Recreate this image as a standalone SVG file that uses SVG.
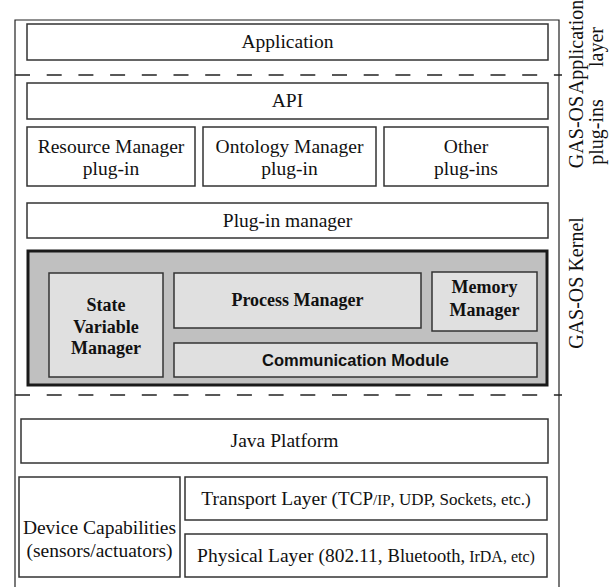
<svg xmlns="http://www.w3.org/2000/svg" width="613" height="587" viewBox="0 0 613 587">
  <style>
    .box { fill: #ffffff; stroke: #333333; stroke-width: 1.5; }
    .kbox { fill: #e0e0e0; stroke: #333333; stroke-width: 1.5; }
    .kernel { fill: #c0c0c0; stroke: #1a1a1a; stroke-width: 3; }
    .frame { fill: none; stroke: #222222; stroke-width: 1.2; }
    .sep { fill: none; stroke: #222222; stroke-width: 1.5; stroke-dasharray: 15 16.7; }
    text { fill: #111111; text-anchor: middle; }
    .t { font-size: 19.5px; }
    .tb { font-size: 18px; font-weight: bold; }
    .sb { font-size: 16.5px; font-weight: bold; }
    .side { font-size: 20px; }
  </style>

  <!-- outer frame and layer separators -->
  <g id="frame">
    <polyline class="frame" points="15,587 15,20 559,20 559,587"/>
    <line class="sep" x1="15" y1="75" x2="562" y2="75"/>
    <line class="sep" x1="15" y1="395" x2="562" y2="395"/>
  </g>

  <g font-family="Liberation Serif, Times New Roman, DejaVu Serif, serif">
    <!-- application layer -->
    <g id="application">
      <rect class="box" x="27" y="24" width="521" height="36"/>
      <text class="t" x="287.5" y="48">Application</text>
    </g>

    <!-- GAS-OS plug-ins -->
    <g id="api">
      <rect class="box" x="27" y="83" width="521" height="36"/>
      <text class="t" x="287.5" y="107">API</text>
    </g>
    <g id="resource-manager">
      <rect class="box" x="27" y="127" width="168" height="59"/>
      <text class="t" x="111" y="153">Resource Manager</text>
      <text class="t" x="111" y="175">plug-in</text>
    </g>
    <g id="ontology-manager">
      <rect class="box" x="203" y="127" width="173" height="59"/>
      <text class="t" x="289.5" y="153">Ontology Manager</text>
      <text class="t" x="289.5" y="175">plug-in</text>
    </g>
    <g id="other-plugins">
      <rect class="box" x="384" y="127" width="164" height="59"/>
      <text class="t" x="466" y="153">Other</text>
      <text class="t" x="466" y="175">plug-ins</text>
    </g>
    <g id="plugin-manager">
      <rect class="box" x="27" y="203" width="521" height="35"/>
      <text class="t" x="287.5" y="227">Plug-in manager</text>
    </g>

    <!-- GAS-OS kernel -->
    <g id="kernel">
      <rect class="kernel" x="28" y="251" width="519" height="134"/>
    </g>
    <g id="state-variable-manager">
      <rect class="kbox" x="49" y="273" width="114" height="104"/>
      <text class="tb" x="106" y="311">State</text>
      <text class="tb" x="106" y="333">Variable</text>
      <text class="tb" x="106" y="354">Manager</text>
    </g>
    <g id="process-manager">
      <rect class="kbox" x="174" y="273" width="247" height="55"/>
      <text class="tb" x="297.5" y="306">Process Manager</text>
    </g>
    <g id="memory-manager">
      <rect class="kbox" x="432" y="272" width="105" height="59"/>
      <text class="tb" x="484.5" y="293">Memory</text>
      <text class="tb" x="484.5" y="316">Manager</text>
    </g>
    <g id="communication-module">
      <rect class="kbox" x="174" y="343" width="363" height="34"/>
      <text class="sb" x="355.5" y="366" font-family="Liberation Sans, Arial, DejaVu Sans, sans-serif">Communication Module</text>
    </g>

    <!-- platform and hardware -->
    <g id="java-platform">
      <rect class="box" x="21" y="419" width="527" height="44"/>
      <text class="t" x="284.5" y="447">Java Platform</text>
    </g>
    <g id="device-capabilities">
      <rect class="box" x="19" y="477" width="161" height="100"/>
      <text class="t" x="99.5" y="534">Device Capabilities</text>
      <text class="t" x="99.5" y="557">(sensors/actuators)</text>
    </g>
    <g id="transport-layer">
      <rect class="box" x="185" y="477" width="362" height="43"/>
      <text class="t" x="366" y="505" font-size="20">Transport Layer (<tspan font-size="19">TCP</tspan><tspan font-size="15">/IP</tspan><tspan font-size="17">, UDP, Sockets, etc.)</tspan></text>
    </g>
    <g id="physical-layer">
      <rect class="box" x="185" y="534" width="362" height="43"/>
      <text class="t" x="366" y="562" font-size="20.5">Physical Layer (802.11, <tspan font-size="18.5">Bluetooth,</tspan><tspan font-size="16"> IrDA, etc)</tspan></text>
    </g>

    <!-- layer captions -->
    <g id="captions">
      <text class="side" transform="translate(583,47) rotate(-90)">Application</text>
      <text class="side" transform="translate(603,47) rotate(-90)">layer</text>
      <text class="side" transform="translate(583,132) rotate(-90)">GAS-OS</text>
      <text class="side" transform="translate(603,132) rotate(-90)">plug-ins</text>
      <text class="side" transform="translate(583,283) rotate(-90)">GAS-OS Kernel</text>
    </g>
  </g>
</svg>
